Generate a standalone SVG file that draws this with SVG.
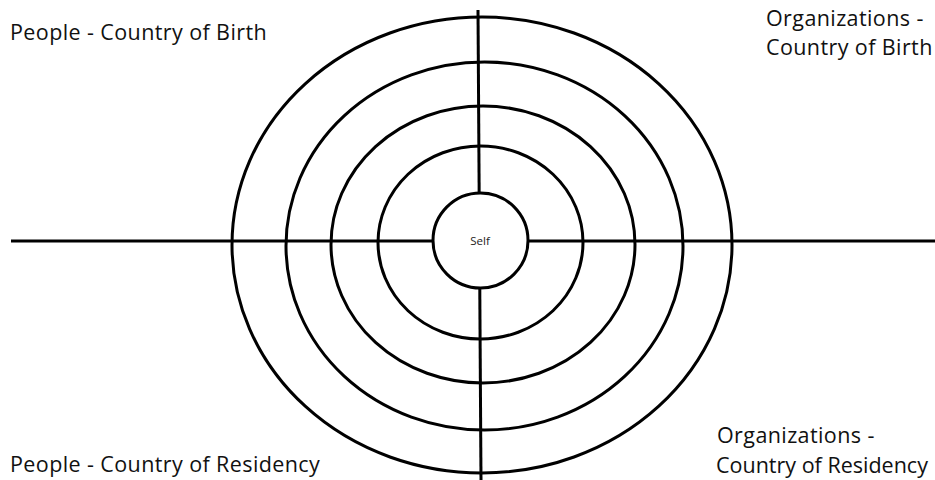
<svg xmlns="http://www.w3.org/2000/svg" width="935" height="480" viewBox="0 0 935 480">
<style>
.ring{fill:none;stroke:#000;stroke-width:3}
.axis{stroke:#000;stroke-width:3}
.lbl{font-family:"Open Sans","Noto Sans",sans-serif;font-size:21.5px;letter-spacing:0.4px;fill:#111}
.self{font-family:"Open Sans","Noto Sans",sans-serif;font-size:11.5px;fill:#222}
</style>
<rect width="935" height="480" fill="#fff"/>
<g id="connectors">
<line class="axis" x1="11" y1="241" x2="935" y2="241"/>
<line class="axis" x1="478" y1="10" x2="481" y2="480"/>
</g>
<g id="ring5"><ellipse class="ring" cx="482" cy="245" rx="250" ry="228"/></g>
<g id="ring4"><ellipse class="ring" cx="484.5" cy="246" rx="198.5" ry="184"/></g>
<g id="ring3"><ellipse class="ring" cx="483" cy="244.5" rx="152" ry="138.5"/></g>
<g id="ring2"><ellipse class="ring" cx="480.5" cy="242.5" rx="102.5" ry="96.5"/></g>
<g id="self"><circle cx="480.5" cy="240.5" r="47.5" fill="#fff" stroke="#000" stroke-width="3"/>
<text class="self" x="480" y="245" text-anchor="middle">Self</text></g>
<g id="people-birth"><text class="lbl" x="10" y="40">People - Country of Birth</text></g>
<g id="people-residency"><text class="lbl" x="10" y="472">People - Country of Residency</text></g>
<g id="org-birth"><text class="lbl" x="766" y="26">Organizations -</text><text class="lbl" x="766" y="55">Country of Birth</text></g>
<g id="org-residency"><text class="lbl" x="717" y="443">Organizations -</text><text class="lbl" x="716" y="473" style="letter-spacing:0">Country of Residency</text></g>
</svg>
